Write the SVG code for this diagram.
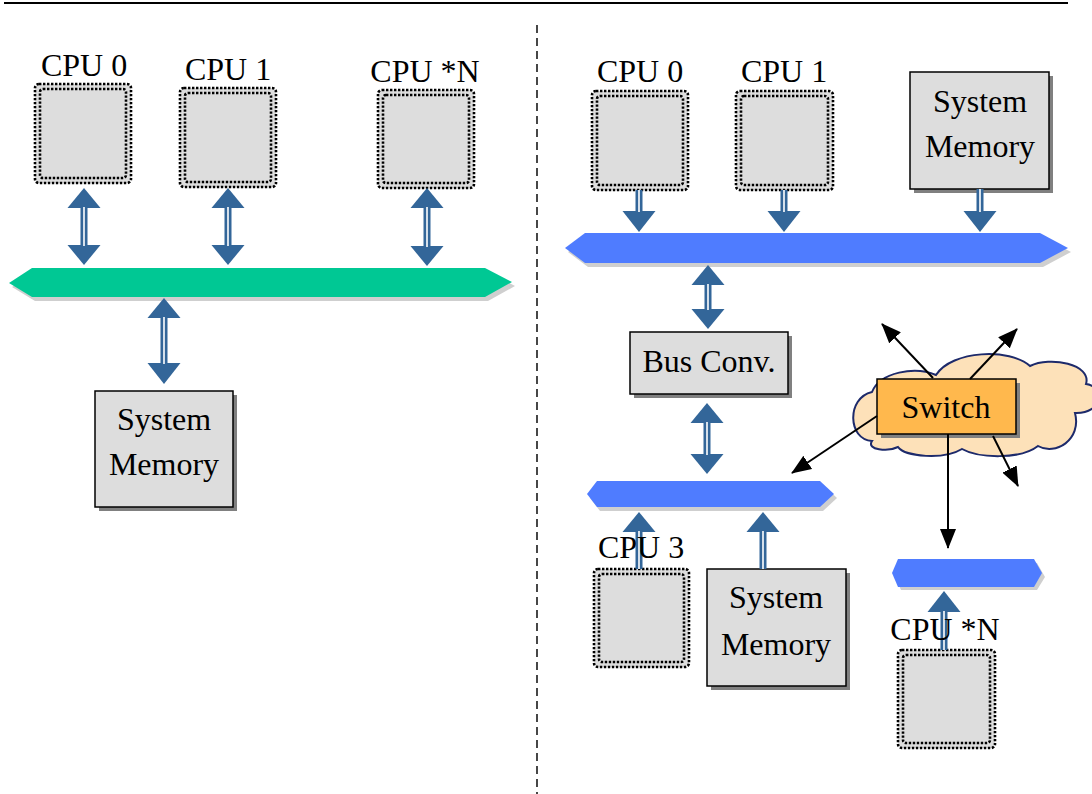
<svg xmlns="http://www.w3.org/2000/svg" width="1092" height="794" viewBox="0 0 1092 794">
  <style>
    .lbl { font-family: "Liberation Serif", "Times New Roman", serif; font-size: 32px; fill: #000; text-anchor: middle; }
    .cpu { fill: #dddddd; stroke: #000; stroke-width: 2.6; stroke-dasharray: 2.4 1.6; }
    .cpuin { fill: none; stroke: #000; stroke-width: 2.6; stroke-dasharray: 2.4 1.6; }
    .box { fill: #dddddd; stroke: #000; stroke-width: 1.5; }
    .shadow { fill: #808080; }
    .busshadow { fill: #cfcfcf; }
    .green { fill: #00c894; }
    .blue { fill: #4f7cff; }
    .arw { fill: #336699; }
    .gap { stroke: #ffffff; stroke-width: 1.6; }
    .link { stroke: #000; stroke-width: 2; fill: none; marker-end: url(#head); }
  </style>
  <defs>
    <marker id="head" viewBox="0 0 20 16" refX="19" refY="8" markerWidth="20" markerHeight="16" markerUnits="userSpaceOnUse" orient="auto">
      <path d="M0,0 L20,8 L0,16 Z" fill="#000"/>
    </marker>
  </defs>

  <!-- page rule and divider -->
  <line x1="4" y1="3" x2="1068" y2="3" stroke="#000" stroke-width="2"/>
  <line x1="537" y1="25" x2="537" y2="794" stroke="#333" stroke-width="1.8" stroke-dasharray="8 5"/>

  <!-- ===== left: shared bus ===== -->
  <g id="bus-left">
    <polygon class="busshadow" points="12,287 35,272 488,272 515,286 488,301 35,301"/>
    <polygon class="green" points="9,283 32,268 485,268 512,282 485,297 32,297"/>
  </g>

  <g id="cpu0-left">
    <rect class="cpu" x="35" y="84" width="96" height="99" rx="4"/>
    <rect class="cpuin" x="40" y="89" width="86" height="89" rx="3"/>
    <text class="lbl" x="84" y="76">CPU 0</text>
  </g>
  <g id="cpu1-left">
    <rect class="cpu" x="180" y="88" width="96" height="99" rx="4"/>
    <rect class="cpuin" x="185" y="93" width="86" height="89" rx="3"/>
    <text class="lbl" x="228" y="80">CPU 1</text>
  </g>
  <g id="cpuN-left">
    <rect class="cpu" x="378" y="90" width="96" height="98" rx="4"/>
    <rect class="cpuin" x="383" y="95" width="86" height="88" rx="3"/>
    <text class="lbl" x="425" y="82">CPU *N</text>
  </g>
  <g id="mem-left">
    <rect class="shadow" x="99" y="395" width="138" height="116"/>
    <rect class="box" x="95" y="391" width="138" height="116"/>
    <text class="lbl" x="164" y="430">System</text>
    <text class="lbl" x="164" y="475">Memory</text>
  </g>

  <!-- ===== right: bridged buses ===== -->
  <g id="bus-top">
    <polygon class="busshadow" points="568,252 588,237 1043,237 1071,252 1043,267 588,267"/>
    <polygon class="blue" points="565,248 585,233 1040,233 1068,248 1040,263 585,263"/>
  </g>
  <g id="bus-mid">
    <polygon class="busshadow" points="590,498 600,485 823,485 837,498 823,511 600,511"/>
    <polygon class="blue" points="587,494 597,481 820,481 834,494 820,507 597,507"/>
  </g>
  <g id="bus-low">
    <polygon class="busshadow" points="895,577 901,563 1037,563 1045,577 1037,590 901,590"/>
    <polygon class="blue" points="892,573 898,559 1034,559 1042,573 1034,587 898,587"/>
  </g>

  <g id="cpu0-right">
    <rect class="cpu" x="592" y="91" width="96" height="99" rx="4"/>
    <rect class="cpuin" x="597" y="96" width="86" height="89" rx="3"/>
    <text class="lbl" x="640" y="82">CPU 0</text>
  </g>
  <g id="cpu1-right">
    <rect class="cpu" x="736" y="91" width="97" height="99" rx="4"/>
    <rect class="cpuin" x="741" y="96" width="87" height="89" rx="3"/>
    <text class="lbl" x="784" y="82">CPU 1</text>
  </g>
  <g id="mem-top">
    <rect class="shadow" x="914" y="76" width="139" height="117"/>
    <rect class="box" x="910" y="72" width="139" height="117"/>
    <text class="lbl" x="980" y="112">System</text>
    <text class="lbl" x="980" y="157">Memory</text>
  </g>
  <g id="bus-conv">
    <rect class="shadow" x="634" y="336" width="158" height="62"/>
    <rect class="box" x="630" y="332" width="158" height="62"/>
    <text class="lbl" x="709" y="372">Bus Conv.</text>
  </g>
  <g id="cpu3">
    <rect class="cpu" x="594" y="569" width="95" height="98" rx="4"/>
    <rect class="cpuin" x="599" y="574" width="85" height="88" rx="3"/>
  </g>
  <g id="mem-mid">
    <rect class="shadow" x="711" y="573" width="139" height="117"/>
    <rect class="box" x="707" y="569" width="139" height="117"/>
    <text class="lbl" x="776" y="608">System</text>
    <text class="lbl" x="776" y="655">Memory</text>
  </g>
  <g id="cpuN-right">
    <rect class="cpu" x="898" y="650" width="97" height="98" rx="4"/>
    <rect class="cpuin" x="903" y="655" width="87" height="88" rx="3"/>
  </g>

  <g id="switch">
    <path d="M872,441 C848,440 846,398 872,392 C880,372 915,366 936,375 C952,350 1010,348 1030,366 C1050,356 1092,364 1086,384 C1104,386 1104,414 1075,413 C1082,440 1055,456 1038,446 C1020,460 978,458 962,449 C944,460 905,457 898,447 C888,452 866,450 872,441 Z" fill="#fde1b9" stroke="#1d2a6b" stroke-width="2"/>
    <rect class="shadow" x="881" y="383" width="139" height="55"/>
    <rect x="877" y="379" width="139" height="55" fill="#ffb84d" stroke="#000" stroke-width="1.5"/>
    <text class="lbl" x="946" y="418">Switch</text>
  </g>

  <!-- ===== connectors ===== -->
  <g id="connectors">
    <!-- left: double arrows to the shared bus -->
    <g class="arw">
      <rect x="80.5" y="207" width="7" height="39"/>
      <polygon points="84,188 67.5,208 100.5,208"/>
      <polygon points="84,265 67.5,245 100.5,245"/>
      <rect x="224.5" y="207" width="7" height="39"/>
      <polygon points="228,188 211.5,208 244.5,208"/>
      <polygon points="228,265 211.5,245 244.5,245"/>
      <rect x="423.5" y="207" width="7" height="40"/>
      <polygon points="427,188 410.5,208 443.5,208"/>
      <polygon points="427,266 410.5,246 443.5,246"/>
      <rect x="160.5" y="317" width="7" height="47"/>
      <polygon points="164,298 147.5,318 180.5,318"/>
      <polygon points="164,384 147.5,363 180.5,363"/>
      <!-- right: bus to converter -->
      <rect x="704.5" y="284" width="7" height="26"/>
      <polygon points="708,265 691.5,285 724.5,285"/>
      <polygon points="708,329 691.5,309 724.5,309"/>
      <rect x="703.5" y="422" width="7" height="33"/>
      <polygon points="707,403 690.5,423 723.5,423"/>
      <polygon points="707,474 690.5,454 723.5,454"/>
      <!-- single arrows onto buses -->
      <rect x="635.5" y="190" width="7" height="22"/>
      <polygon points="639,232 622.5,211 655.5,211"/>
      <rect x="780.5" y="190" width="7" height="22"/>
      <polygon points="784,232 767.5,211 800.5,211"/>
      <rect x="976.5" y="189" width="7" height="23"/>
      <polygon points="980,232 963.5,211 996.5,211"/>
      <rect x="635.5" y="531" width="7" height="38"/>
      <polygon points="639,512 622.5,532 655.5,532"/>
      <rect x="759.5" y="531" width="7" height="38"/>
      <polygon points="763,512 746.5,532 779.5,532"/>
      <rect x="940.5" y="611" width="7" height="39"/>
      <polygon points="944,591 927.5,612 960.5,612"/>
    </g>
    <g class="gap">
      <line x1="84" y1="207" x2="84" y2="246"/>
      <line x1="228" y1="207" x2="228" y2="246"/>
      <line x1="427" y1="207" x2="427" y2="247"/>
      <line x1="164" y1="317" x2="164" y2="364"/>
      <line x1="708" y1="284" x2="708" y2="310"/>
      <line x1="707" y1="422" x2="707" y2="455"/>
      <line x1="639" y1="190" x2="639" y2="212"/>
      <line x1="784" y1="190" x2="784" y2="212"/>
      <line x1="980" y1="189" x2="980" y2="212"/>
      <line x1="639" y1="531" x2="639" y2="569"/>
      <line x1="763" y1="531" x2="763" y2="569"/>
      <line x1="944" y1="611" x2="944" y2="650"/>
    </g>
    <!-- switch fan-out -->
    <line class="link" x1="933" y1="378" x2="882" y2="324"/>
    <line class="link" x1="970" y1="379" x2="1017" y2="329"/>
    <line class="link" x1="877" y1="416" x2="792" y2="473"/>
    <line class="link" x1="993" y1="436" x2="1018" y2="486"/>
    <line class="link" x1="948" y1="434" x2="948" y2="548"/>
  </g>

  <!-- labels printed over the rising shafts -->
  <text class="lbl" x="641" y="558">CPU 3</text>
  <text class="lbl" x="945" y="640">CPU *N</text>
</svg>
